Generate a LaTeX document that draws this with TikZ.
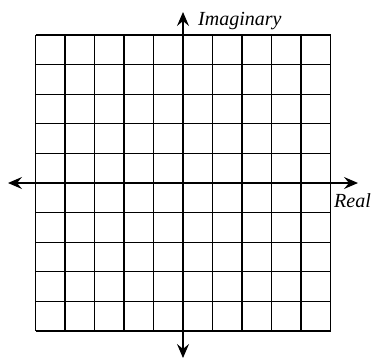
\documentclass[tikz,border=0pt]{standalone}
\usepackage{fontspec}
\setmainfont{Liberation Serif}
\usetikzlibrary{arrows.meta, positioning}

\begin{document}
\begin{tikzpicture}[
    x=1pt, y=-1pt,
    gridLine/.style={draw=black, line width=1.1pt},
    axisLine/.style={draw=black, line width=1.6pt, {Stealth[length=14pt, width=12pt, inset=5pt]}-{Stealth[length=14pt, width=12pt, inset=5pt]}},
    axisLabel/.style={font=\fontsize{20}{24}\selectfont\itshape, inner sep=0pt}
]
\useasboundingbox (0,0) rectangle (372,359);

% Grid: 10 x 10 squares
\foreach \i in {0,...,10} {
    \draw[gridLine] ({35.5+29.5*\i},35) -- ({35.5+29.5*\i},331);
    \draw[gridLine] (35.5,{35+29.6*\i}) -- (330.5,{35+29.6*\i});
}

% Axis ends
\coordinate (realMin) at (8,183);
\coordinate (realMax) at (358,183);
\coordinate (imagMax) at (183,12);
\coordinate (imagMin) at (183,358);

% Axes
\draw[axisLine] (realMin) -- (realMax);
\draw[axisLine] (imagMin) -- (imagMax);

% Axis labels
\node[axisLabel, anchor=base west] (imagLabel) at (198,25) {Imaginary};
\node[axisLabel, anchor=base west] (realLabel) at (334,207) {Real};

\end{tikzpicture}
\end{document}
